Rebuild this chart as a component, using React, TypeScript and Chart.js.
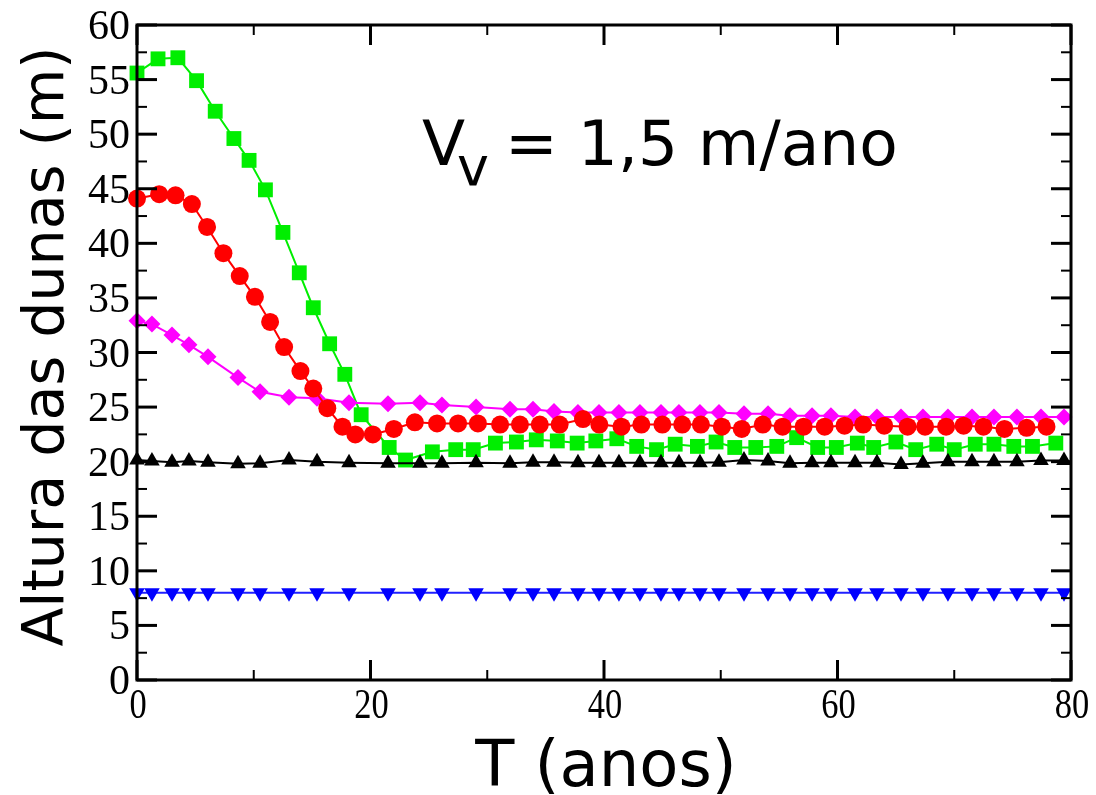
import { useEffect, useRef } from "react";
import { Chart, registerables } from "chart.js";

Chart.register(...registerables);

// Time samples (years) shared by the magenta, black and blue runs
const sharedYears = [
  0, 1.28, 3.0, 4.45, 6.08, 8.65, 10.54, 13.02, 15.42, 18.16,
  21.5, 24.24, 26.12, 29.04, 31.95, 33.92, 35.72, 37.77, 39.57, 41.28,
  43.08, 44.88, 46.42, 48.22, 49.85, 51.99, 54.05, 55.93, 57.82, 59.44,
  61.5, 63.38, 65.44, 67.32, 69.46, 71.52, 73.4, 75.37, 77.43, 79.4,
];

const magentaHeights = [
  32.9, 32.6, 31.6, 30.7, 29.6, 27.7, 26.4, 25.9, 25.8, 25.4,
  25.3, 25.4, 25.2, 25.0, 24.8, 24.8, 24.6, 24.5, 24.5, 24.5,
  24.5, 24.5, 24.5, 24.5, 24.5, 24.4, 24.4, 24.2, 24.2, 24.2,
  24.1, 24.1, 24.1, 24.1, 24.1, 24.1, 24.1, 24.1, 24.1, 24.1,
];

const blackHeights = [
  20.15, 20.05, 19.95, 20.05, 19.95, 19.8, 19.85, 20.15, 20.0, 19.9,
  19.85, 19.85, 19.85, 19.9, 19.85, 19.95, 19.95, 19.9, 19.9, 19.9,
  19.9, 19.9, 19.9, 19.9, 19.95, 20.15, 20.05, 19.85, 19.9, 19.9,
  19.9, 19.9, 19.75, 19.85, 20.0, 20.0, 20.0, 20.0, 20.1, 20.1,
];

const blueHeights = [
  8.0, 8.0, 8.0, 8.0, 8.0, 8.0, 8.0, 8.0, 8.0, 8.0,
  8.0, 8.0, 8.0, 8.0, 8.0, 8.0, 8.0, 8.0, 8.0, 8.0,
  8.0, 8.0, 8.0, 8.0, 8.0, 8.0, 8.0, 8.0, 8.0, 8.0,
  8.0, 8.0, 8.0, 8.0, 8.0, 8.0, 8.0, 8.0, 8.0, 8.0,
];

const redYears = [
  0, 1.9, 3.3, 4.7, 6.0, 7.4, 8.8, 10.1, 11.4, 12.6,
  14.0, 15.1, 16.3, 17.6, 18.7, 20.2, 22.0, 23.8, 25.7, 27.5,
  29.2, 31.1, 32.8, 34.5, 36.2, 38.2, 39.6, 41.5, 43.2, 45.0,
  46.7, 48.3, 50.1, 51.8, 53.6, 55.3, 57.1, 58.9, 60.6, 62.2,
  64.0, 66.0, 67.5, 69.3, 70.8, 72.5, 74.3, 76.2, 77.9,
];
const redHeights = [
  44.1, 44.5, 44.4, 43.6, 41.5, 39.1, 37.0, 35.1, 32.8, 30.5,
  28.3, 26.7, 24.9, 23.2, 22.5, 22.5, 23.0, 23.6, 23.5, 23.5,
  23.5, 23.4, 23.4, 23.4, 23.4, 23.9, 23.4, 23.2, 23.4, 23.4,
  23.4, 23.4, 23.2, 23.0, 23.4, 23.2, 23.2, 23.2, 23.3, 23.4,
  23.3, 23.2, 23.2, 23.2, 23.3, 23.2, 23.0, 23.1, 23.2,
];

const greenYears = [
  0, 1.8, 3.5, 5.1, 6.7, 8.3, 9.6, 11.0, 12.5, 13.9,
  15.1, 16.5, 17.8, 19.2, 21.6, 23.0, 25.3, 27.3, 28.8, 30.7,
  32.5, 34.2, 36.0, 37.7, 39.3, 41.1, 42.8, 44.5, 46.1, 48.0,
  49.6, 51.2, 53.0, 54.8, 56.5, 58.3, 59.9, 61.7, 63.1, 65.0,
  66.7, 68.5, 70.0, 71.8, 73.4, 75.1, 76.7, 78.7,
];
const greenHeights = [
  55.6, 56.9, 57.0, 54.9, 52.1, 49.6, 47.6, 44.9, 41.0, 37.3,
  34.1, 30.8, 28.0, 24.3, 21.3, 20.15, 20.9, 21.1, 21.1, 21.7,
  21.8, 22.0, 21.9, 21.7, 21.9, 22.1, 21.4, 21.1, 21.6, 21.4,
  21.8, 21.3, 21.3, 21.4, 22.2, 21.3, 21.3, 21.7, 21.3, 21.8,
  21.1, 21.6, 21.1, 21.6, 21.6, 21.4, 21.4, 21.7,
];

// Axis ticks
const xMajorTicks = [0, 20, 40, 60, 80];
const xMinorTicks = [10, 30, 50, 70];
const yMajorTicks = [0, 5, 10, 15, 20, 25, 30, 35, 40, 45, 50, 55, 60];
const yMinorTicks = [2.5, 7.5, 12.5, 17.5, 22.5, 27.5, 32.5, 37.5, 42.5, 47.5, 52.5, 57.5];

const xTitle = "T (anos)";
const yTitle = "Altura das dunas (m)";

const SERIF = '"Liberation Serif", "Times New Roman", serif';
const SANS = '"DejaVu Sans", sans-serif';

const pairs = (xs: number[], ys: number[]) => xs.map((x, i) => ({ x, y: ys[i] }));

const framePlugin = {
  id: "xmgraceFrame",
  afterDraw(chart: any) {
    const { ctx, chartArea: a, scales } = chart;
    const xs = scales.x;
    const ys = scales.y;
    ctx.save();
    ctx.strokeStyle = "#000";
    ctx.fillStyle = "#000";

    const seg = (x1: number, y1: number, x2: number, y2: number, w: number) => {
      ctx.lineWidth = w;
      ctx.beginPath();
      ctx.moveTo(x1, y1);
      ctx.lineTo(x2, y2);
      ctx.stroke();
    };

    // inward ticks on all four sides
    xMajorTicks.forEach((v) => {
      const p = xs.getPixelForValue(v);
      seg(p, a.bottom, p, a.bottom - 20, 3);
      seg(p, a.top, p, a.top + 20, 3);
    });
    xMinorTicks.forEach((v) => {
      const p = xs.getPixelForValue(v);
      seg(p, a.bottom, p, a.bottom - 10, 2);
      seg(p, a.top, p, a.top + 10, 2);
    });
    yMajorTicks.forEach((v) => {
      const p = ys.getPixelForValue(v);
      seg(a.left, p, a.left + 20, p, 3);
      seg(a.right, p, a.right - 20, p, 3);
    });
    yMinorTicks.forEach((v) => {
      const p = ys.getPixelForValue(v);
      seg(a.left, p, a.left + 10, p, 2);
      seg(a.right, p, a.right - 10, p, 2);
    });

    // frame
    ctx.lineWidth = 3;
    ctx.strokeRect(a.left, a.top, a.right - a.left, a.bottom - a.top);

    // x tick labels: slightly condensed serif
    ctx.textBaseline = "alphabetic";
    ctx.textAlign = "center";
    ctx.font = `42px ${SERIF}`;
    xMajorTicks.forEach((v) => {
      ctx.save();
      ctx.translate(xs.getPixelForValue(v) + 1, a.bottom + 38);
      ctx.scale(0.82, 1);
      ctx.fillText(String(v), 0, 0);
      ctx.restore();
    });

    // y tick labels
    ctx.textAlign = "right";
    ctx.font = `42px ${SERIF}`;
    yMajorTicks.forEach((v) => {
      ctx.fillText(String(v), a.left - 7, ys.getPixelForValue(v) + 14);
    });

    // axis titles
    ctx.font = `64px ${SANS}`;
    ctx.textAlign = "center";
    ctx.fillText(xTitle, (a.left + a.right) / 2 + 2, 786);

    ctx.save();
    ctx.translate(63, (a.top + a.bottom) / 2 - 6);
    ctx.rotate(-Math.PI / 2);
    ctx.font = `57px ${SANS}`;
    ctx.textAlign = "center";
    ctx.fillText(yTitle, 0, 0);
    ctx.restore();

    // annotation: V_v = 1,5 m/ano
    ctx.textAlign = "left";
    ctx.font = `63px ${SANS}`;
    ctx.fillText("V", 422, 165);
    ctx.font = `54px ${SANS}`;
    ctx.fillText("v", 457, 185);
    ctx.font = `63px ${SANS}`;
    ctx.fillText("= 1,5 m/ano", 505, 165);

    ctx.restore();
  },
};

export default function App() {
  const canvasRef = useRef<HTMLCanvasElement | null>(null);

  useEffect(() => {
    const canvas = canvasRef.current;
    if (!canvas) return;

    const common = { showLine: true, borderWidth: 2, clip: false as any, tension: 0 };

    const chart = new Chart(canvas, {
      type: "scatter",
      data: {
        datasets: [
          {
            ...common,
            label: "preto",
            data: pairs(sharedYears, blackHeights),
            borderColor: "#000000",
            backgroundColor: "#000000",
            pointStyle: "triangle",
            pointRadius: 9,
            pointBorderWidth: 0,
          },
          {
            ...common,
            label: "vermelho",
            data: pairs(redYears, redHeights),
            borderColor: "#ff0000",
            backgroundColor: "#ff0000",
            pointStyle: "circle",
            pointRadius: 9,
            pointBorderWidth: 0,
          },
          {
            ...common,
            label: "magenta",
            data: pairs(sharedYears, magentaHeights),
            borderColor: "#ff00ff",
            backgroundColor: "#ff00ff",
            pointStyle: "rectRot",
            pointRadius: 8.5,
            pointBorderWidth: 0,
          },
          {
            ...common,
            label: "verde",
            data: pairs(greenYears, greenHeights),
            borderColor: "#00ee00",
            backgroundColor: "#00ee00",
            pointStyle: "rect",
            pointRadius: 10.5,
            pointBorderWidth: 0,
          },
          {
            ...common,
            label: "azul",
            data: pairs(sharedYears, blueHeights),
            borderColor: "#2020ff",
            backgroundColor: "#0000ff",
            pointStyle: "triangle",
            pointRotation: 180,
            pointRadius: 9,
            pointBorderWidth: 0,
          },
        ],
      },
      options: {
        animation: false,
        responsive: false,
        devicePixelRatio: 1,
        layout: { padding: { top: 25, right: 25, left: 0, bottom: 0 } },
        plugins: {
          legend: { display: false },
          tooltip: { enabled: false },
        },
        scales: {
          x: {
            type: "linear",
            min: 0,
            max: 80,
            grid: { display: false },
            border: { display: false },
            ticks: { display: false },
            afterFit: (s: any) => {
              s.height = 115;
            },
          },
          y: {
            type: "linear",
            min: 0,
            max: 60,
            grid: { display: false },
            border: { display: false },
            ticks: { display: false },
            afterFit: (s: any) => {
              s.width = 137;
            },
          },
        },
      },
      plugins: [framePlugin],
    });

    return () => chart.destroy();
  }, []);

  return (
    <div style={{ position: "absolute", left: 0, top: 0, width: 1096, height: 795, background: "#fff" }}>
      <canvas ref={canvasRef} width={1096} height={795} style={{ display: "block", width: 1096, height: 795 }} />
    </div>
  );
}
